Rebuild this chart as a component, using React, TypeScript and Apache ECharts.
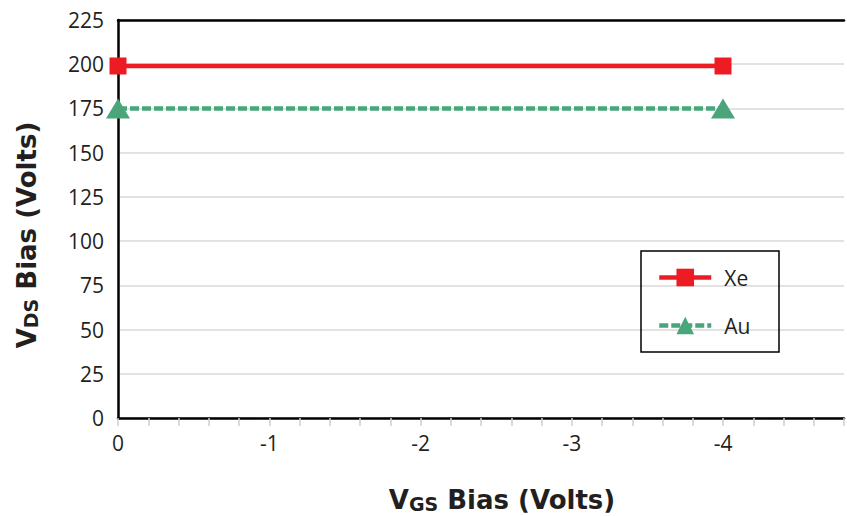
import React, { useEffect, useRef } from "react";
import * as echarts from "echarts";

// Gate bias positions (V) and drain bias levels (V) for each ion species
const vgs: number[] = [0, -4];
const xeVds: number[] = [199, 199];
const auVds: number[] = [175, 175];
const seriesNames: string[] = ["Xe", "Au"];

const RED = "#ED1C24";
const GREEN = "#4AA57B";
const INK = "#231F20";
const TITLE_FONT = "DejaVu Sans";

export default function App() {
  const ref = useRef<HTMLDivElement>(null);

  useEffect(() => {
    if (!ref.current) return;
    const chart = echarts.init(ref.current, undefined, { renderer: "svg" });

    const xeData = vgs.map((x, i) => [x, xeVds[i]]);
    const auData = vgs.map((x, i) => [x, auVds[i]]);

    const titleRich = {
      a: { fontFamily: TITLE_FONT, fontWeight: "bold", fontSize: 26, lineHeight: 28, verticalAlign: "bottom", fill: INK },
      b: { fontFamily: TITLE_FONT, fontWeight: "bold", fontSize: 19, lineHeight: 8, verticalAlign: "bottom", fill: INK },
    };

    chart.setOption({
      animation: false,
      backgroundColor: "#fff",
      grid: { left: 118, right: 1, top: 20, bottom: 98, containLabel: false },
      xAxis: [
        {
          type: "value",
          min: -4.8,
          max: 0,
          interval: 0.2,
          inverse: true,
          axisLine: { show: true, lineStyle: { color: "#000", width: 2.5 } },
          axisTick: { show: true, length: 8, lineStyle: { color: "#cfcfcf", width: 1.5 } },
          splitLine: { show: false },
          axisLabel: {
            fontFamily: "Open Sans",
            fontSize: 21,
            color: INK,
            margin: 14,
            formatter: (v: number) => {
              const r = Math.round(v);
              if (Math.abs(v - r) > 1e-6) return "";
              return r === 0 ? "0" : String(r);
            },
          },
        },
        {
          type: "value",
          position: "top",
          min: -4.8,
          max: 0,
          inverse: true,
          axisLine: { show: true, lineStyle: { color: "#000", width: 2.5 } },
          axisTick: { show: false },
          axisLabel: { show: false },
          splitLine: { show: false },
        },
      ],
      yAxis: {
        type: "value",
        min: 0,
        max: 225,
        interval: 25,
        axisLine: { show: true, lineStyle: { color: "#000", width: 2.5 } },
        axisTick: { show: false },
        splitLine: { show: true, lineStyle: { color: "#d9d9d9", width: 1.5 } },
        axisLabel: { fontFamily: "Open Sans", fontSize: 21, color: INK, margin: 14 },
      },
      legend: {
        orient: "vertical",
        left: 657,
        top: 267,
        padding: 0,
        itemWidth: 52,
        itemHeight: 22,
        itemGap: 27,
        data: seriesNames,
        lineStyle: { width: 4.5 },
        textStyle: { fontFamily: "Open Sans", fontSize: 21, color: INK, padding: [0, 0, 0, 8] },
      },
      graphic: [
        {
          type: "rect",
          shape: { x: 641, y: 251, width: 138, height: 101 },
          style: { fill: "none", stroke: "#000", lineWidth: 1.5 },
          z: 10,
        },
        {
          type: "text",
          x: 502,
          y: 499,
          style: {
            text: "{a|V}{b|GS}{a| Bias (Volts)}",
            align: "center",
            verticalAlign: "middle",
            rich: titleRich,
          },
        },
        {
          type: "text",
          x: 26,
          y: 235,
          rotation: Math.PI / 2,
          style: {
            text: "{a|V}{b|DS}{a| Bias (Volts)}",
            align: "center",
            verticalAlign: "middle",
            rich: titleRich,
          },
        },
      ],
      series: [
        {
          name: seriesNames[0],
          type: "line",
          data: xeData,
          color: RED,
          symbol: "rect",
          symbolSize: 17,
          lineStyle: { color: RED, width: 4.5 },
          itemStyle: { color: RED },
          z: 3,
        },
        {
          name: seriesNames[1],
          type: "line",
          data: auData,
          color: GREEN,
          symbol: "triangle",
          symbolSize: [24, 20],
          lineStyle: { color: GREEN, width: 4.5, type: [9, 3] },
          itemStyle: { color: GREEN },
          z: 3,
        },
      ],
    });

    return () => chart.dispose();
  }, []);

  return (
    <div
      ref={ref}
      style={{ position: "fixed", left: 0, top: 0, width: 847, height: 516 }}
    />
  );
}
